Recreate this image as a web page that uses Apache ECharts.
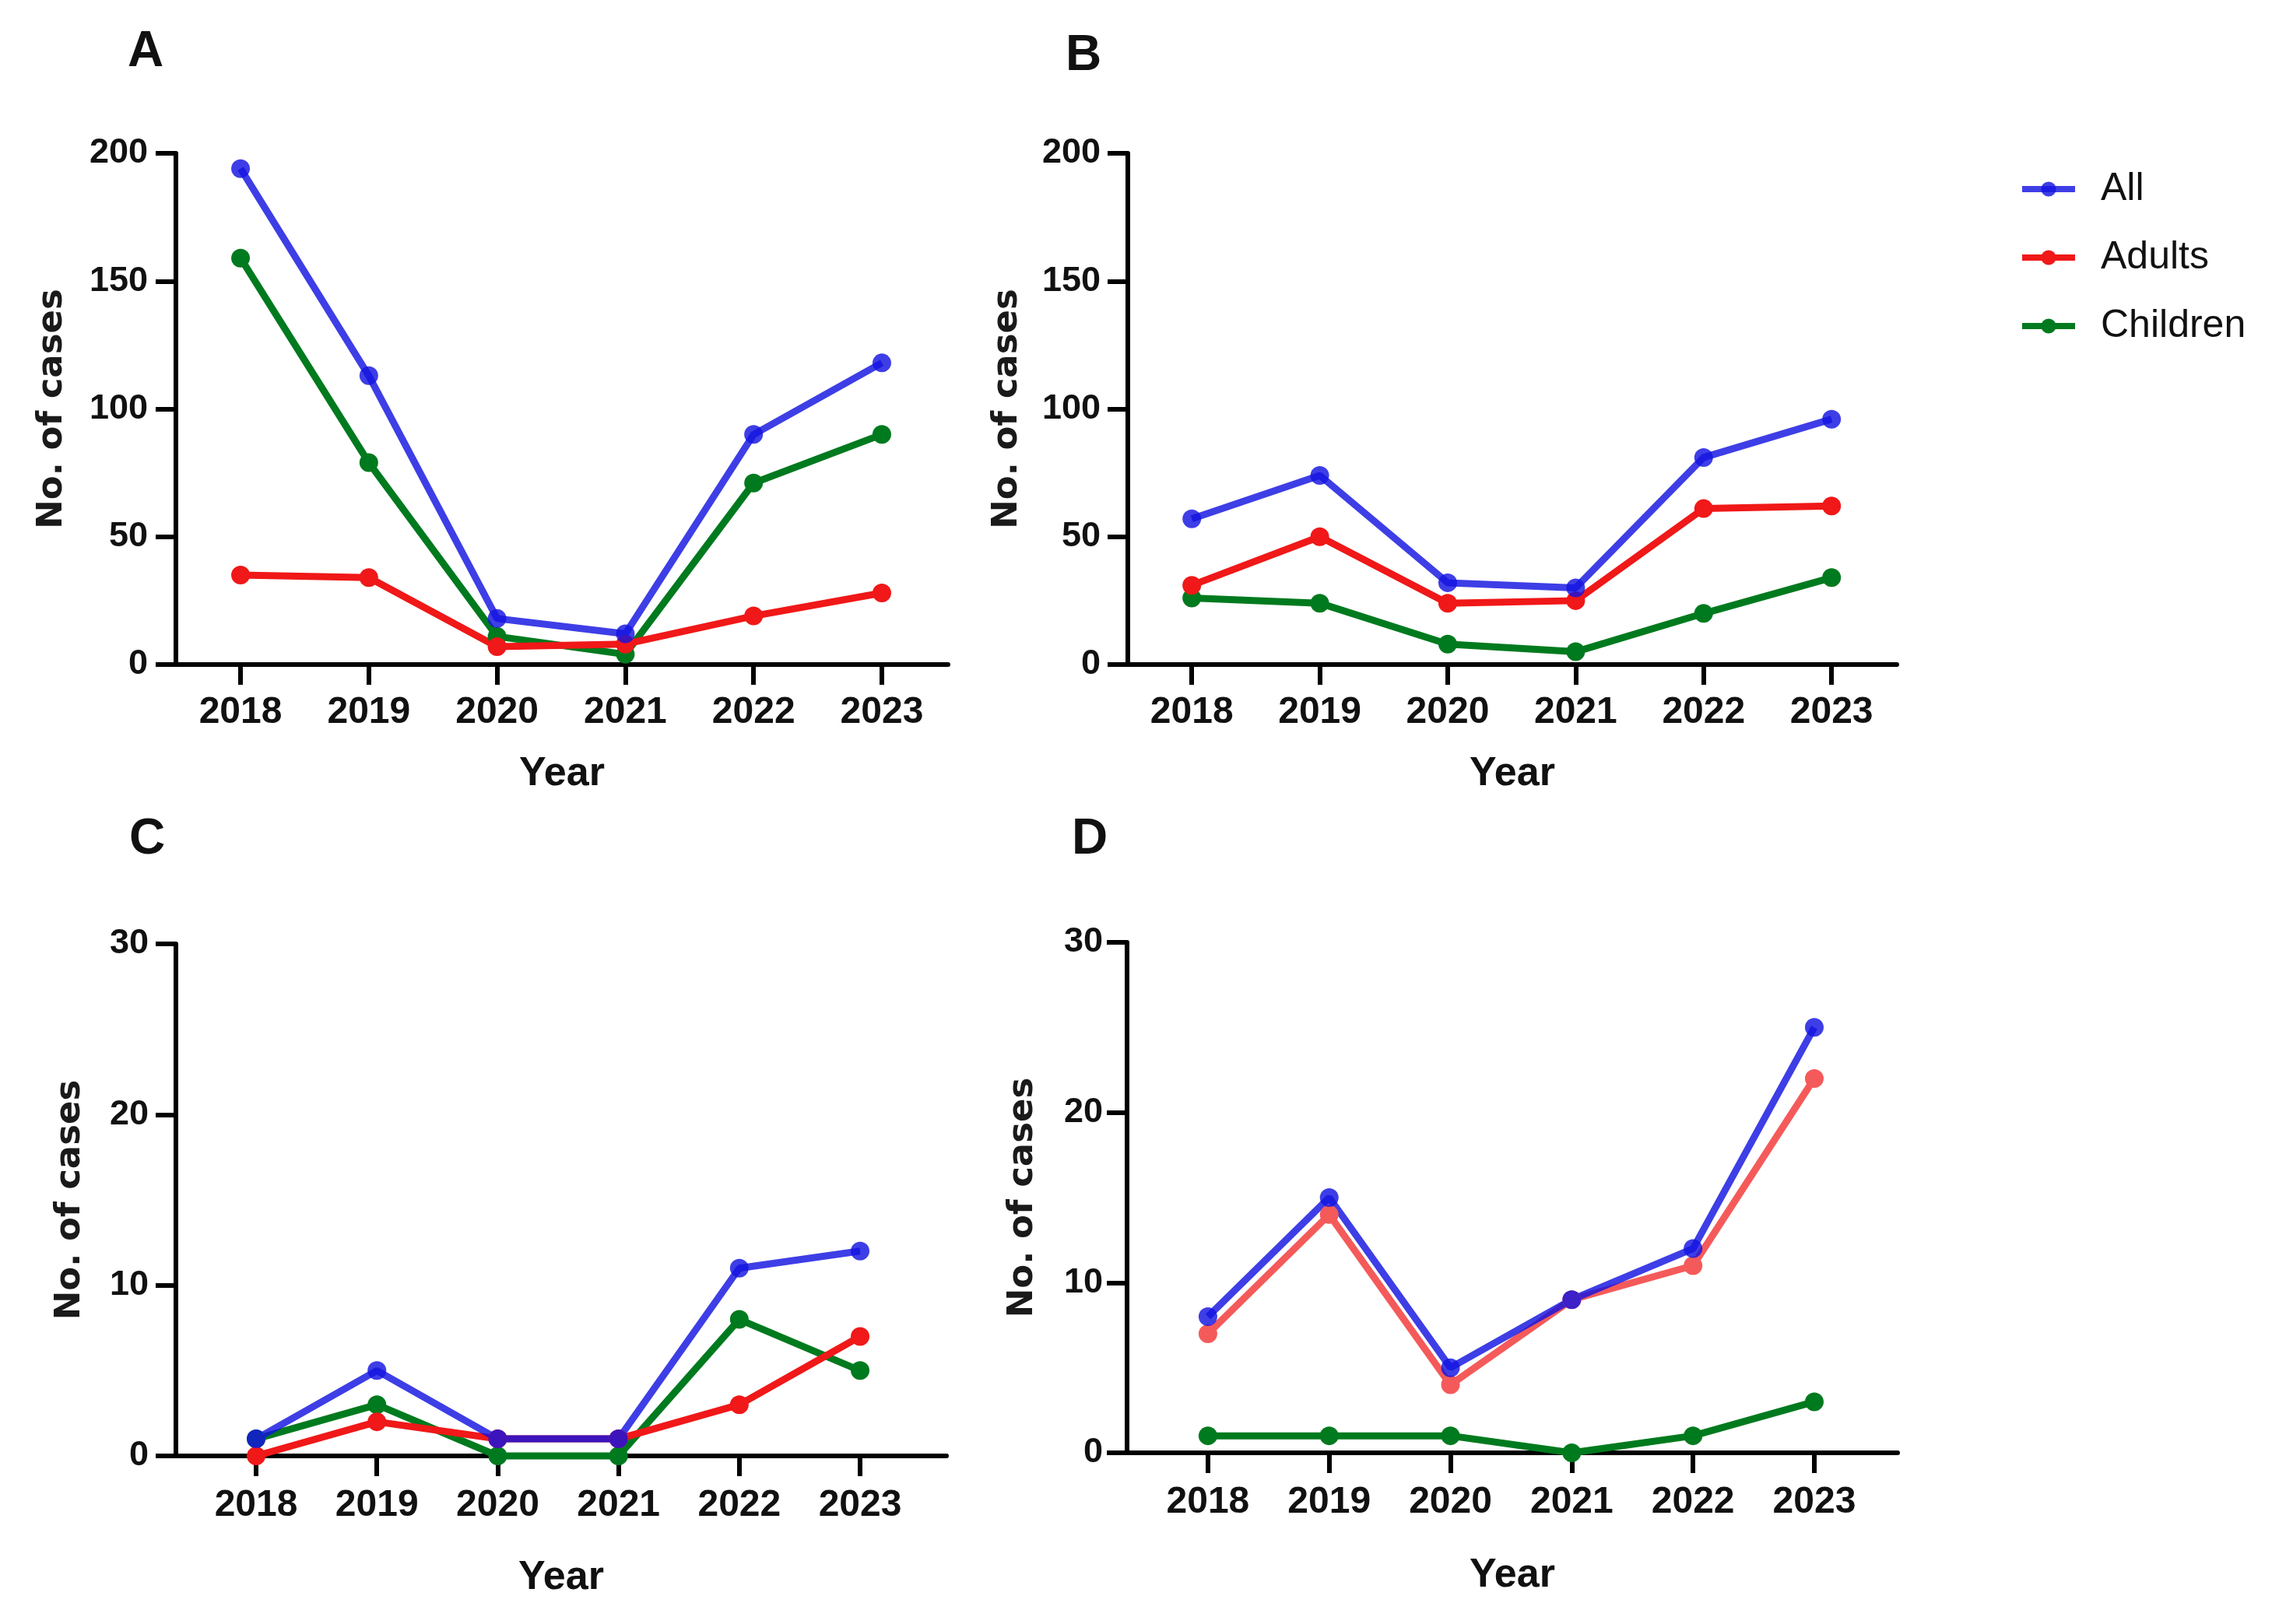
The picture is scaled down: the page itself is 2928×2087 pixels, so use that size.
<!DOCTYPE html>
<html>
<head>
<meta charset="utf-8">
<script src="https://cdn.jsdelivr.net/npm/echarts@6/dist/echarts.min.js"></script>
<style>
html,body{margin:0;padding:0;background:#ffffff;}
#chart{width:2928px;height:2087px;}
</style>
</head>
<body>
<div id="chart"></div>
<script>
// ---- Data ----
const years = [2018, 2019, 2020, 2021, 2022, 2023];
const seriesNames = ['All', 'Adults', 'Children'];
const panelLabels = ['A', 'B', 'C', 'D'];

const aAll      = [194, 113, 18, 12, 90, 118];
const aAdults   = [35, 34, 7, 8, 19, 28];
const aChildren = [159, 79, 11, 4, 71, 90];

const bAll      = [57, 74, 32, 30, 81, 96];
const bAdults   = [31, 50, 24, 25, 61, 62];
const bChildren = [26, 24, 8, 5, 20, 34];

const cAll      = [1, 5, 1, 1, 11, 12];
const cAdults   = [0, 2, 1, 1, 3, 7];
const cChildren = [1, 3, 0, 0, 8, 5];

const dAll      = [8, 15, 5, 9, 12, 25];
const dAdults   = [7, 14, 4, 9, 11, 22];
const dChildren = [1, 1, 1, 0, 1, 3];

const yMaxes    = [200, 200, 30, 30];
const yIntervals = [50, 50, 10, 10];

// ---- Styles / layout ----
const BLUE = 'rgba(20,20,225,0.82)';
const RED = '#f01818';
const RED_LIGHT = '#f55a5a';
const GREEN = '#007a1e';

const layout = [
  {grid:{left:226, top:197, width:992, height:657}, xMin:2017.496, xMax:2023.516, yNameGap:136, xNameGap:115, xLabelMargin:38, yLabelMargin:36, lab:[187,67], red:RED},
  {grid:{left:1449, top:197, width:988, height:657}, xMin:2017.50, xMax:2023.51, yNameGap:132, xNameGap:115, xLabelMargin:38, yLabelMargin:35, lab:[1392,72], red:RED},
  {grid:{left:226, top:1213, width:990, height:658}, xMin:2017.336, xMax:2023.715, yNameGap:113, xNameGap:131, xLabelMargin:40, yLabelMargin:35, lab:[189,1079], red:RED},
  {grid:{left:1448, top:1211, width:990, height:656}, xMin:2017.333, xMax:2023.687, yNameGap:111, xNameGap:132, xLabelMargin:40, yLabelMargin:31, lab:[1400,1079], red:RED_LIGHT}
];

const panelData = [
  {all:aAll, adults:aAdults, children:aChildren},
  {all:bAll, adults:bAdults, children:bChildren},
  {all:cAll, adults:cAdults, children:cChildren},
  {all:dAll, adults:dAdults, children:dChildren}
];

const AXIS_W = 6;
const pairs = arr => years.map((y, i) => [y, arr[i]]);

const grids = [], xAxes = [], yAxes = [], series = [], graphics = [];

layout.forEach((L, p) => {
  grids.push(Object.assign({containLabel:false}, L.grid));
  xAxes.push({
    gridIndex: p, type: 'value', min: L.xMin, max: L.xMax,
    name: 'Year', nameLocation: 'middle', nameGap: L.xNameGap,
    nameTextStyle: {fontFamily: 'Liberation Sans', fontWeight: 'bold', fontSize: 52, color: '#111'},
    axisLine: {show: true, onZero: false, lineStyle: {color: '#000', width: AXIS_W}},
    axisTick: {show: true, length: 26, inside: false, customValues: years, lineStyle: {color: '#000', width: AXIS_W}},
    axisLabel: {show: true, customValues: years, margin: L.xLabelMargin, formatter: v => String(v),
      fontFamily: 'Liberation Sans', fontWeight: 'bold', fontSize: 48, color: '#111'},
    splitLine: {show: false}
  });
  yAxes.push({
    gridIndex: p, type: 'value', min: 0, max: yMaxes[p], interval: yIntervals[p],
    name: 'No. of cases', nameLocation: 'middle', nameGap: L.yNameGap,
    nameTextStyle: {fontFamily: 'DejaVu Sans', fontWeight: 'bold', fontSize: 45, color: '#1a1a1a'},
    axisLine: {show: true, lineStyle: {color: '#000', width: AXIS_W}},
    axisTick: {show: true, length: 26, inside: false, lineStyle: {color: '#000', width: AXIS_W}},
    axisLabel: {show: true, margin: L.yLabelMargin, fontFamily: 'Liberation Sans', fontWeight: 'bold', fontSize: 45, color: '#111'},
    splitLine: {show: false}
  });
  const d = panelData[p];
  const mk = (name, arr, color) => ({
    name, type: 'line', xAxisIndex: p, yAxisIndex: p, data: pairs(arr),
    symbol: 'circle', symbolSize: 24, showSymbol: true, clip: false,
    lineStyle: {color, width: 9}, itemStyle: {color}, z: 3,
    emphasis: {disabled: true}
  });
  series.push(mk('Children', d.children, GREEN));
  series.push(mk('Adults', d.adults, L.red));
  series.push(mk('All', d.all, BLUE));
  graphics.push({
    type: 'text', x: L.lab[0], y: L.lab[1],
    style: {text: panelLabels[p], font: 'bold 64px "Liberation Sans"', fill: '#111', textAlign: 'center', textVerticalAlign: 'middle'}
  });
});

const chart = echarts.init(document.getElementById('chart'), null, {renderer: 'canvas'});
chart.setOption({
  backgroundColor: '#ffffff',
  animation: false,
  grid: grids,
  xAxis: xAxes,
  yAxis: yAxes,
  series: series,
  graphic: graphics,
  legend: {
    data: seriesNames, orient: 'vertical', left: 2589, top: 213,
    itemWidth: 68, itemHeight: 24, itemGap: 38,
    lineStyle: {width: 8},
    textStyle: {fontFamily: 'Liberation Sans', fontSize: 50, lineHeight: 50, color: '#111', padding: [0, 0, 0, 28]}
  }
});
</script>
</body>
</html>
